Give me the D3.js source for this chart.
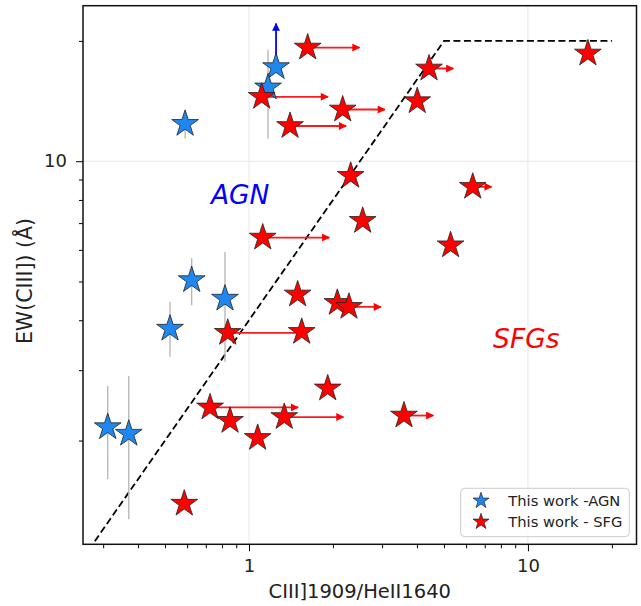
<!DOCTYPE html>
<html>
<head>
<meta charset="utf-8">
<script src="https://cdn.jsdelivr.net/npm/d3@7"></script>
<style>
  body { margin: 0; background: #fff; }
  text { font-family: "DejaVu Sans", sans-serif; }
</style>
</head>
<body>
<script>
// AGN points (blue), with vertical error bars
var agnX = [0.59, 1.25, 1.17, 0.623, 0.82, 0.521, 0.3115, 0.3706];
var agnY = [12.4, 17.2, 15.3, 5.04, 4.53, 3.81, 2.16, 2.08];
var agnYlo = [11.4, null, 11.4, 4.36, 3.15, 3.24, 1.60, 1.27];
var agnYhi = [13.3, null, 19.0, 5.72, 5.93, 4.45, 2.74, 2.90];
var agnYlim = [null, 22.1, null, null, null, null, null, null]; // lower limit arrow up

// SFG points (red), some with lower limits in x (arrow to the right)
var sfgX = [1.623, 1.11, 2.167, 1.403, 4.42, 4.01, 16.4, 2.315, 6.34, 2.556, 5.28, 1.12,
            1.494, 2.073, 2.282, 0.839, 1.545, 0.725, 0.855, 1.074, 1.338, 1.915, 3.594, 0.586];
var sfgY = [19.25, 14.49, 13.47, 12.25, 17.06, 14.13, 18.6, 9.19, 8.63, 7.09, 6.16, 6.44,
            4.64, 4.42, 4.32, 3.72, 3.74, 2.42, 2.24, 2.03, 2.29, 2.70, 2.31, 1.39];
var sfgXlim = [2.49, 1.92, 3.07, 2.23, 5.40, null, null, null, 7.41, null, null, 1.94,
               null, null, 2.97, 1.60, null, 1.50, null, null, 2.18, null, 4.58, null];

// demarcation line
var lineX = [0.28, 5, 20];
var lineY = [1.12, 20, 20];

var xMajor = [1, 10];
var xMinor = [0.3, 0.4, 0.5, 0.6, 0.7, 0.8, 0.9, 2, 3, 4, 5, 6, 7, 8, 9, 20];
var yMajor = [10];
var yMinor = [2, 3, 4, 5, 6, 7, 8, 9, 20];

var W = 641, H = 606;
var margin = {top: 5.7, right: 4.5, bottom: 61.7, left: 83},
   width = W - margin.left - margin.right,
   height = H - margin.top - margin.bottom;

var x = d3.scaleLog().domain([0.254, 24.5]).range([0, width]);
var y = d3.scaleLog().domain([1.1, 24.5]).range([height, 0]);

var svg = d3.select("body").append("svg")
  .attr("width", W)
  .attr("height", H)
  .append("g").attr("transform",
  "translate(" + margin.left + "," + margin.top + ")");

var defs = svg.append("defs");
defs.append("clipPath").attr("id", "clip")
  .append("rect").attr("width", width).attr("height", height);

function addHead(id, color) {
  defs.append("marker")
    .attr("id", id)
    .attr("viewBox", "0 -5 10 10")
    .attr("refX", 9)
    .attr("refY", 0)
    .attr("markerUnits", "userSpaceOnUse")
    .attr("markerWidth", 9)
    .attr("markerHeight", 8)
    .attr("orient", "auto")
    .append("path")
    .attr("d", "M0,-5L10,0L0,5Z")
    .attr("fill", color);
}
addHead("headRed", "red");
addHead("headBlue", "blue");

// grid on major ticks
svg.selectAll(".gx").data(xMajor).enter().append("line")
  .attr("x1", function(d) { return x(d); })
  .attr("x2", function(d) { return x(d); })
  .attr("y1", 0).attr("y2", height)
  .attr("stroke", "#e6e6e6").attr("stroke-width", 1);
svg.selectAll(".gy").data(yMajor).enter().append("line")
  .attr("y1", function(d) { return y(d); })
  .attr("y2", function(d) { return y(d); })
  .attr("x1", 0).attr("x2", width)
  .attr("stroke", "#e6e6e6").attr("stroke-width", 1);

var plot = svg.append("g").attr("clip-path", "url(#clip)");

// dashed dividing line
var linePts = lineX.map(function(d, i) { return [d, lineY[i]]; });
plot.append("path")
  .datum(linePts)
  .attr("fill", "none")
  .attr("stroke", "black")
  .attr("stroke-width", 1.8)
  .attr("stroke-dasharray", "7,3.5")
  .attr("d", d3.line()
    .x(function(d) { return x(d[0]); })
    .y(function(d) { return y(d[1]); }));

var agn = agnX.map(function(d, i) {
  return {x: d, y: agnY[i], lo: agnYlo[i], hi: agnYhi[i], lim: agnYlim[i]};
});
var sfg = sfgX.map(function(d, i) {
  return {x: d, y: sfgY[i], lim: sfgXlim[i]};
});

// error bars
plot.selectAll(".err").data(agn.filter(function(d) { return d.lo != null; }))
  .enter().append("line")
  .attr("x1", function(d) { return x(d.x); })
  .attr("x2", function(d) { return x(d.x); })
  .attr("y1", function(d) { return y(d.lo); })
  .attr("y2", function(d) { return y(d.hi); })
  .attr("stroke", "#b4b4b4")
  .attr("stroke-width", 1.3);

// limit arrows
plot.selectAll(".ylim").data(agn.filter(function(d) { return d.lim != null; }))
  .enter().append("line")
  .attr("x1", function(d) { return x(d.x); })
  .attr("x2", function(d) { return x(d.x); })
  .attr("y1", function(d) { return y(d.y); })
  .attr("y2", function(d) { return y(d.lim); })
  .attr("stroke", "blue")
  .attr("stroke-width", 1.8)
  .attr("marker-end", "url(#headBlue)");

plot.selectAll(".xlim").data(sfg.filter(function(d) { return d.lim != null; }))
  .enter().append("line")
  .attr("x1", function(d) { return x(d.x); })
  .attr("x2", function(d) { return x(d.lim); })
  .attr("y1", function(d) { return y(d.y); })
  .attr("y2", function(d) { return y(d.y); })
  .attr("stroke", "#ff1a1a")
  .attr("stroke-width", 1.8)
  .attr("marker-end", "url(#headRed)");

// stars
var star = d3.symbol().type(d3.symbolStar).size(222);

plot.selectAll(".agn").data(agn).enter().append("path")
  .attr("d", star)
  .attr("transform", function(d) { return "translate(" + x(d.x) + "," + y(d.y) + ")"; })
  .attr("fill", "#1e88f0")
  .attr("stroke", "#222")
  .attr("stroke-width", 0.8);

plot.selectAll(".sfg").data(sfg).enter().append("path")
  .attr("d", star)
  .attr("transform", function(d) { return "translate(" + x(d.x) + "," + y(d.y) + ")"; })
  .attr("fill", "red")
  .attr("stroke", "#222")
  .attr("stroke-width", 0.8);

// region labels
svg.append("text")
  .attr("x", x(0.73)).attr("y", y(7.81))
  .attr("font-size", 26.5).attr("font-style", "italic")
  .attr("fill", "blue").text("AGN");
svg.append("text")
  .attr("x", x(7.5)).attr("y", y(3.41))
  .attr("font-size", 26.5).attr("font-style", "italic")
  .attr("fill", "red").text("SFGs");

// axes
function styleAxis(g) {
  g.select(".domain").remove();
  g.selectAll(".tick line").attr("stroke", "black").attr("stroke-width", 1);
  g.selectAll("text").attr("font-size", 18).attr("fill", "#222")
    .attr("font-family", "DejaVu Sans");
}

svg.append("g")
  .attr("transform", "translate(0," + height + ")")
  .call(d3.axisBottom(x).tickValues(xMajor).tickFormat(d3.format("d")).tickSize(7).tickPadding(8))
  .call(styleAxis);
svg.append("g")
  .attr("transform", "translate(0," + height + ")")
  .call(d3.axisBottom(x).tickValues(xMinor).tickFormat("").tickSize(4))
  .call(styleAxis);
svg.append("g")
  .call(d3.axisLeft(y).tickValues(yMajor).tickFormat(d3.format("d")).tickSize(7).tickPadding(9))
  .call(styleAxis);
svg.append("g")
  .call(d3.axisLeft(y).tickValues(yMinor).tickFormat("").tickSize(4))
  .call(styleAxis);

// frame
svg.append("rect")
  .attr("width", width).attr("height", height)
  .attr("fill", "none").attr("stroke", "#111").attr("stroke-width", 1.5);

// axis labels
svg.append("text")
  .attr("x", width / 2).attr("y", 598 - margin.top)
  .attr("text-anchor", "middle")
  .attr("font-size", 19.5).attr("fill", "#222")
  .text("CIII]1909/HeII1640");
svg.append("text")
  .attr("transform", "translate(" + (32 - margin.left) + "," + (281 - margin.top) + ") rotate(-90)")
  .attr("text-anchor", "middle")
  .attr("font-size", 20.5).attr("fill", "#222")
  .text("EW(CIII]) (Å)");

// legend
var legendItems = [
  {label: "This work -AGN", color: "#1e88f0"},
  {label: "This work - SFG", color: "red"}
];
var lg = svg.append("g").attr("transform", "translate(" + (460.7 - margin.left) + "," + (488.3 - margin.top) + ")");
lg.append("rect")
  .attr("width", 168.6).attr("height", 48.4)
  .attr("rx", 4).attr("ry", 4)
  .attr("fill", "white").attr("fill-opacity", 0.8)
  .attr("stroke", "#cccccc").attr("stroke-width", 1);
var row = lg.selectAll(".row").data(legendItems).enter().append("g")
  .attr("transform", function(d, i) { return "translate(0," + (12.4 + i * 21) + ")"; });
row.append("path")
  .attr("d", d3.symbol().type(d3.symbolStar).size(80))
  .attr("transform", "translate(20.3,0)")
  .attr("fill", function(d) { return d.color; })
  .attr("stroke", "#222").attr("stroke-width", 0.7);
row.append("text")
  .attr("x", 47.6).attr("dy", "0.35em")
  .attr("font-size", 14.7).attr("fill", "#222")
  .text(function(d) { return d.label; });
</script>
</body>
</html>
